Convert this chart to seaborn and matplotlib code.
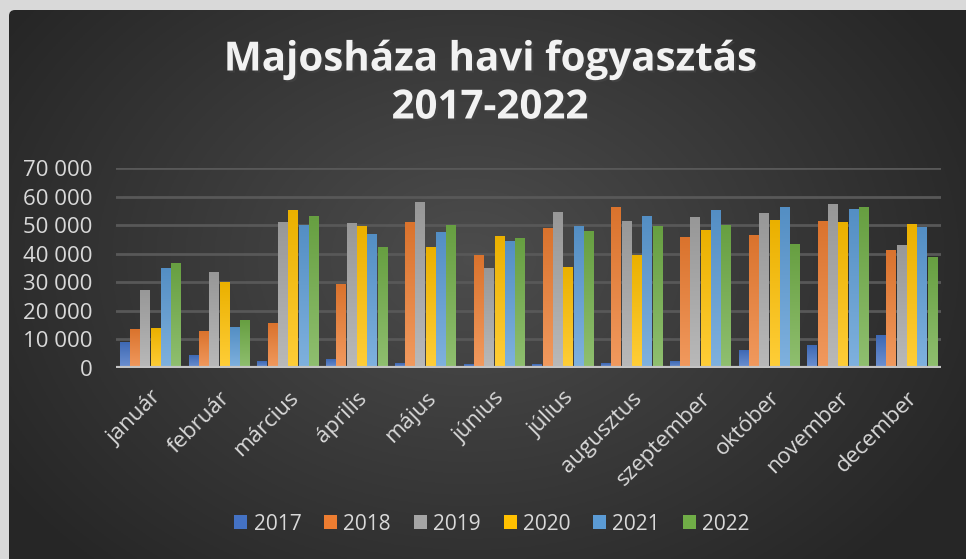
import numpy as np
import pandas as pd
import matplotlib
matplotlib.use("Agg")
import matplotlib.pyplot as plt
import matplotlib.patheffects as pe
from matplotlib.patches import Patch, FancyBboxPatch
from matplotlib.colors import to_rgb
import seaborn as sns

months = ["január", "február", "március", "április", "május", "június",
          "július", "augusztus", "szeptember", "október", "november", "december"]
years = ["2017", "2018", "2019", "2020", "2021", "2022"]
v2017 = [8800, 4300, 2200, 2900, 1500, 1100, 1100, 1500, 2200, 6000, 7800, 11300]
v2018 = [13400, 12700, 15500, 29400, 51000, 39500, 48900, 56300, 45800, 46500, 51400, 41300]
v2019 = [27000, 33600, 51000, 50700, 58000, 35000, 54500, 51400, 52700, 54200, 57300, 43000]
v2020 = [13700, 30100, 55200, 49600, 42300, 46200, 35300, 39500, 48200, 51700, 51000, 50300]
v2021 = [35000, 14100, 50000, 46900, 47600, 44400, 49600, 53100, 55200, 56300, 55600, 49300]
v2022 = [36700, 16500, 53100, 42300, 50000, 45400, 47900, 49600, 50000, 43400, 56300, 38800]
colors = ["#4472C4", "#ED7D31", "#A5A5A5", "#FFC000", "#5B9BD5", "#70AD47"]
yticks = [0, 10000, 20000, 30000, 40000, 50000, 60000, 70000]
title = "Majosháza havi fogyasztás\n2017-2022"

series = [v2017, v2018, v2019, v2020, v2021, v2022]
rows = []
for y, vals in zip(years, series):
    for m, v in zip(months, vals):
        rows.append({"hónap": m, "év": y, "érték": v})
df = pd.DataFrame(rows)

W, H = 966, 559
fig = plt.figure(figsize=(W / 100, H / 100), dpi=100)
fig.patch.set_facecolor("#d9d9d9")

# background radial gradient
bg = fig.add_axes([0, 0, 1, 1], zorder=0)
bg.set_axis_off()
xx, yy = np.meshgrid(np.linspace(0, W, 400), np.linspace(0, H, 240))
cx, cy = 470, 260
r = np.sqrt(((xx - cx) / 560) ** 2 + ((yy - cy) / 420) ** 2)
t = np.clip(r, 0, 1)
c_in = np.array([0.30, 0.30, 0.30])
c_out = np.array([0.15, 0.15, 0.15])
img = c_in[None, None, :] * (1 - t[..., None]) + c_out[None, None, :] * t[..., None]
bg.set_xlim(0, W)
bg.set_ylim(H, 0)
clip = FancyBboxPatch((9, 10), W, H, boxstyle="round,pad=0,rounding_size=6",
                      transform=bg.transData, facecolor="none", edgecolor="none")
bg.add_patch(clip)
im = bg.imshow(img, extent=[0, W, H, 0], aspect="auto", zorder=0)
im.set_clip_path(clip)

ax = fig.add_axes([116 / W, 1 - 368 / H, (941 - 116) / W, 200 / H], zorder=1)
ax.set_facecolor("none")
sns.barplot(data=df, x="hónap", y="érték", hue="év", palette=colors,
            width=0.9, gap=0.08, ax=ax, legend=False, saturation=1)

# vertical gradient for bars
for p in list(ax.patches):
    x0, y0 = p.get_x(), p.get_y()
    w, h = p.get_width(), p.get_height()
    if h <= 0:
        continue
    base = np.array(to_rgb(p.get_facecolor()))
    top = base + (1 - base) * 0.22
    bot = base * 0.92
    g = np.linspace(0, 1, 64)[:, None]
    grad = top[None, :] * (1 - g) + bot[None, :] * g
    ax.imshow(grad[:, None, :], extent=[x0, x0 + w, y0 + h, y0],
              aspect="auto", zorder=2, interpolation="bilinear")
    p.set_visible(False)

ax.set_xlim(-0.5, 11.5)
ax.set_ylim(0, 70000)
ax.set_yticks(yticks)
ax.set_yticklabels([f"{v:,}".replace(",", " ") for v in yticks])
for s in ax.spines.values():
    s.set_visible(False)
ax.grid(axis="y", color="#585858", linewidth=2, alpha=1)
ax.grid(axis="x", visible=False)
ax.set_axisbelow(True)
ax.axhline(0, color="#c4c4c4", linewidth=3, zorder=3)
ax.tick_params(axis="both", length=0, colors="#d9d9d9", labelsize=16)
ax.tick_params(axis="y", pad=17)
ax.tick_params(axis="x", pad=14)
ax.set_xlabel("")
ax.set_ylabel("")
for lab in ax.get_xticklabels():
    lab.set_rotation(45)
    lab.set_ha("right")
    lab.set_va("top")
    lab.set_rotation_mode("anchor")
for lab in ax.get_xticklabels() + ax.get_yticklabels():
    lab.set_family("Open Sans")
    lab.set_color("#d9d9d9")

fig.text(490 / W, 1 - 84 / H, title, ha="center", va="center",
         fontsize=29, fontweight="bold", family="Open Sans", color="#f2f2f2",
         linespacing=1.3,
         path_effects=[pe.SimplePatchShadow(offset=(1.5, -1.5), alpha=0.5),
                       pe.Normal()])

handles = [Patch(facecolor=c, edgecolor="none") for c in colors]
leg = fig.legend(handles, years, loc="center", bbox_to_anchor=(492 / W, 1 - 524 / H),
                 ncol=6, frameon=False, fontsize=15, handlelength=0.62,
                 handleheight=0.62, handletextpad=0.3, columnspacing=1.1)
for tx in leg.get_texts():
    tx.set_color("#d9d9d9")
    tx.set_family("Open Sans")

fig.savefig("out.png", dpi=100, facecolor=fig.get_facecolor())
